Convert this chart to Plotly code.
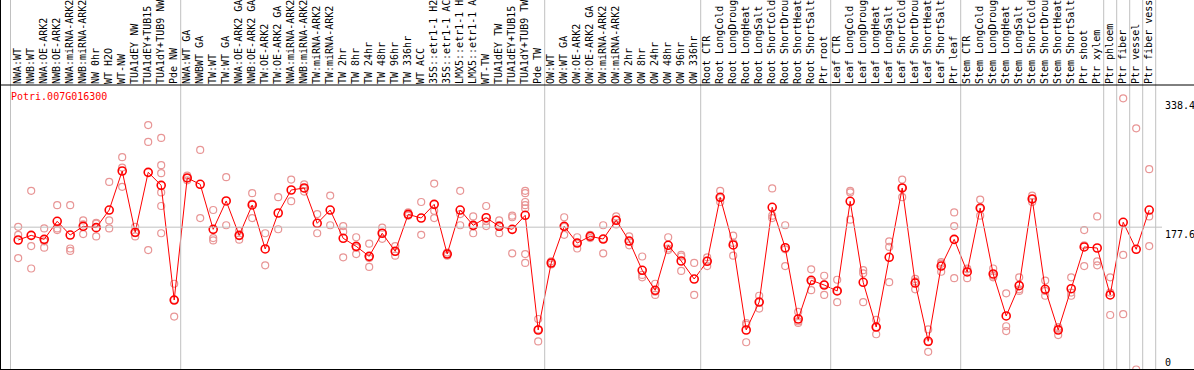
import plotly.graph_objects as go

gene_id = "Potri.007G016300"

labels = [
    "NWA:WT", "NWB:WT", "NWA:OE-ARK2", "NWB:OE-ARK2", "NWA:miRNA-ARK2", "NWB:miRNA-ARK2",
    "NW 0hr", "WT H2O", "WT-NW", "TUA1dEY NW", "TUA1dEY+TUB15 NW", "TUA1dY+TUB9 NW", "Pde NW",
    "NWA:WT GA", "NWBWT GA", "TW:WT", "TW:WT GA", "NWA:OE-ARK2 GA", "NWB:OE-ARK2 GA",
    "TW:OE-ARK2", "TW:OE-ARK2 GA", "NWA:miRNA-ARK2 GA", "NWB:miRNA-ARK2 GA", "TW:miRNA-ARK2",
    "TW:miRNA-ARK2 GA", "TW 2hr", "TW 8hr", "TW 24hr", "TW 48hr", "TW 96hr", "TW 336hr",
    "WT ACC", "35S::etr1-1 H2O", "35S::etr1-1 ACC", "LMX5::etr1-1 H2O", "LMX5::etr1-1 ACC",
    "WT-TW", "TUA1dEY TW", "TUA1dEY+TUB15 TW", "TUA1dY+TUB9 TW", "Pde TW",
    "OW:WT", "OW:WT GA", "OW:OE-ARK2", "OW:OE-ARK2 GA", "OW:miRNA-ARK2", "OW:miRNA-ARK2 GA",
    "OW 2hr", "OW 8hr", "OW 24hr", "OW 48hr", "OW 96hr", "OW 336hr",
    "Root CTR", "Root LongCold", "Root LongDrought", "Root LongHeat", "Root LongSalt",
    "Root ShortCold", "Root ShortDrought", "Root ShortHeat", "Root ShortSalt", "Ptr root",
    "Leaf CTR", "Leaf LongCold", "Leaf LongDrought", "Leaf LongHeat", "Leaf LongSalt",
    "Leaf ShortCold", "Leaf ShortDrought", "Leaf ShortHeat", "Leaf ShortSalt", "Ptr leaf",
    "Stem CTR", "Stem LongCold", "Stem LongDrought", "Stem LongHeat", "Stem LongSalt",
    "Stem ShortCold", "Stem ShortDrought", "Stem ShortHeat", "Stem ShortSalt", "Ptr shoot",
    "Ptr xylem", "Ptr phloem", "Ptr fiber", "Ptr vessel", "Ptr fiber vessel",
]

means = [
    161.6, 167.4, 162.4, 184.9, 167.8, 178.7, 177.0, 199.0, 247.7, 171.2, 246.0, 229.8, 86.7,
    239.0, 231.1, 174.9, 210.3, 167.4, 205.3, 150.4, 195.3, 224.0, 226.5, 182.4, 199.0, 163.7,
    153.7, 141.2, 170.0, 147.5, 193.6, 189.0, 206.1, 144.1, 199.0, 179.9, 189.4, 178.7, 174.9,
    192.4, 49.3,
    132.9, 178.7, 157.8, 166.2, 162.8, 186.2, 160.3, 123.8, 98.8, 155.0, 135.4, 112.9,
    135.0, 214.9, 155.4, 49.3, 84.2, 202.4, 152.0, 63.0, 111.3, 105.4,
    98.0, 209.9, 108.8, 53.0, 140.0, 226.5, 107.9, 35.2, 129.1, 162.4,
    121.7, 201.5, 119.2, 66.8, 104.6, 212.8, 100.1, 49.3, 100.8, 152.9, 151.6,
    93.0, 183.7, 150.0, 199.0,
]

replicates = [
    [178, 168, 139], [223, 154, 126], [176, 160, 152], [205, 176, 174], [205, 151, 148],
    [186, 181, 169], [183, 182, 166], [234, 186, 176], [265, 252, 228], [178, 170, 166],
    [305, 284, 149], [289, 255, 245, 221, 204, 170], [107, 87, 66], [242, 239, 236],
    [274, 189], [199, 164, 161], [240, 180], [173, 167, 162], [220, 207, 189], [170, 130],
    [215, 175], [237, 210], [231, 226, 222], [194, 170], [217, 180], [179, 172, 140],
    [165, 152, 144], [157, 139, 128], [177, 170, 163], [154, 147, 142], [196, 193, 192],
    [209, 168], [232, 198, 189], [146, 144, 142], [223, 194, 180], [191, 179, 170],
    [204, 185, 179], [186, 180, 170], [192, 190, 145], [223, 220, 209, 205, 201, 144, 133],
    [63, 50, 35],
    [135, 133, 131], [190, 178, 168], [165, 158, 151], [168, 166, 164], [180, 163, 145],
    [191, 187, 181], [166, 160, 155], [141, 118, 115], [107, 97, 93], [165, 151, 149],
    [143, 141, 123], [133, 93],
    [140, 136, 129], [223, 214, 209], [167, 158, 142], [58, 56, 34], [92, 84, 76],
    [226, 192, 189], [180, 150, 129], [72, 60, 58], [125, 110, 99], [117, 106, 93],
    [112, 98, 84], [223, 221, 187], [124, 120, 84], [62, 53, 44], [160, 153, 109],
    [237, 227, 215], [113, 110, 100], [50, 34, 22], [134, 132, 122], [196, 179, 114],
    [125, 126, 114], [212, 201, 192], [126, 117, 115], [95, 54, 48], [115, 100, 98],
    [217, 213, 209], [111, 98, 92], [53, 51, 43], [115, 96, 92], [174, 155, 129],
    [191, 135, 130], [115, 96, 68], [338.4, 143, 69], [301, 0], [250, 191, 154],
]

# group separators (after these category indices)
group_ends = [12, 40, 52, 62, 72, 83, 84, 85, 86, 87]
ref_value = 177.6
axis_labels = ["338.4", "177.6", "0"]
axis_values = [338.4, 177.6, 0]

W, H = 1194, 370
ML, MR, MT, MB = 11, 38, 85, 0
plot_w = W - ML - MR
plot_h = H - MT - MB
x_min, x_max = -0.554, -0.554 + plot_w / 13.0
y_min, y_max = -0.62, 355.0

def xpaper(v):
    return (v - x_min) / (x_max - x_min)

def px_to_paper_x(px):
    return (px - ML) / plot_w

def py_to_paper_y(py):
    return (H - MB - py) / plot_h

font_mono = "DejaVu Sans Mono"
idx = list(range(len(labels)))

rx, ry = [], []
for i, reps in enumerate(replicates):
    for r in reps:
        rx.append(i)
        ry.append(r)

fig = go.Figure()
fig.add_trace(go.Scatter(
    x=rx, y=ry, mode="markers",
    marker=dict(symbol="circle-open", size=7, color="rgb(232,150,150)", line=dict(width=1.2)),
    hoverinfo="skip", cliponaxis=True,
))
fig.add_trace(go.Scatter(
    x=idx, y=means, mode="lines+markers",
    line=dict(color="#ff0000", width=1),
    marker=dict(symbol="circle-open", size=8, color="#ff0000", line=dict(width=1.6)),
    hoverinfo="skip", cliponaxis=True,
))

shapes = []
top_paper = py_to_paper_y(0)
for g in group_ends:
    xp = xpaper(g + 0.5)
    shapes.append(dict(type="line", xref="paper", yref="paper", x0=xp, x1=xp,
                       y0=0, y1=top_paper, line=dict(color="#c0c0c0", width=1)))
# left gray line
shapes.append(dict(type="line", xref="paper", yref="paper",
                   x0=px_to_paper_x(10.5), x1=px_to_paper_x(10.5), y0=0, y1=top_paper,
                   line=dict(color="#c0c0c0", width=1)))
# reference line
shapes.append(dict(type="line", xref="paper", yref="y",
                   x0=px_to_paper_x(10.5), x1=px_to_paper_x(1162), y0=ref_value, y1=ref_value,
                   line=dict(color="#c0c0c0", width=1)))
# black frame lines
shapes.append(dict(type="line", xref="paper", yref="paper",
                   x0=px_to_paper_x(0), x1=px_to_paper_x(W), y0=1, y1=1,
                   line=dict(color="#000000", width=1)))
shapes.append(dict(type="line", xref="paper", yref="paper",
                   x0=px_to_paper_x(0), x1=px_to_paper_x(W), y0=py_to_paper_y(369.5), y1=py_to_paper_y(369.5),
                   line=dict(color="#000000", width=1)))
shapes.append(dict(type="line", xref="paper", yref="paper",
                   x0=px_to_paper_x(0.5), x1=px_to_paper_x(0.5), y0=0, y1=top_paper,
                   line=dict(color="#000000", width=1)))

annotations = [dict(
    text=gene_id, xref="paper", yref="paper", x=px_to_paper_x(8.5), y=py_to_paper_y(96.7),
    xanchor="left", yanchor="middle", showarrow=False,
    font=dict(family=font_mono, size=10, color="#ff0000"),
)]
for lab, val in zip(axis_labels, axis_values):
    annotations.append(dict(
        text=lab, xref="paper", yref="y", x=px_to_paper_x(1163), y=val,
        xanchor="left", yanchor="bottom" if val == 0 else "top", showarrow=False,
        font=dict(family=font_mono, size=10, color="#000000"),
    ))

fig.update_layout(
    width=W, height=H,
    margin=dict(l=ML, r=MR, t=MT, b=MB, pad=0),
    paper_bgcolor="white", plot_bgcolor="white",
    showlegend=False,
    shapes=shapes, annotations=annotations,
    xaxis=dict(
        range=[x_min, x_max], side="top", tickmode="array", tickvals=idx, ticktext=labels,
        tickangle=-90, ticks="", showgrid=False, zeroline=False, showline=False,
        tickfont=dict(family=font_mono, size=10, color="#000000"),
        ticklabelstandoff=0, automargin=False,
    ),
    yaxis=dict(
        range=[y_min, y_max], showgrid=False, zeroline=False, showline=False,
        showticklabels=False, ticks="", automargin=False,
    ),
)

fig.write_html(
    "out.html",
    config={"displayModeBar": False, "staticPlot": True},
    post_script="document.body.style.margin='0';document.body.style.padding='0';"
                "document.body.style.overflow='hidden';document.documentElement.style.overflow='hidden';",
)
